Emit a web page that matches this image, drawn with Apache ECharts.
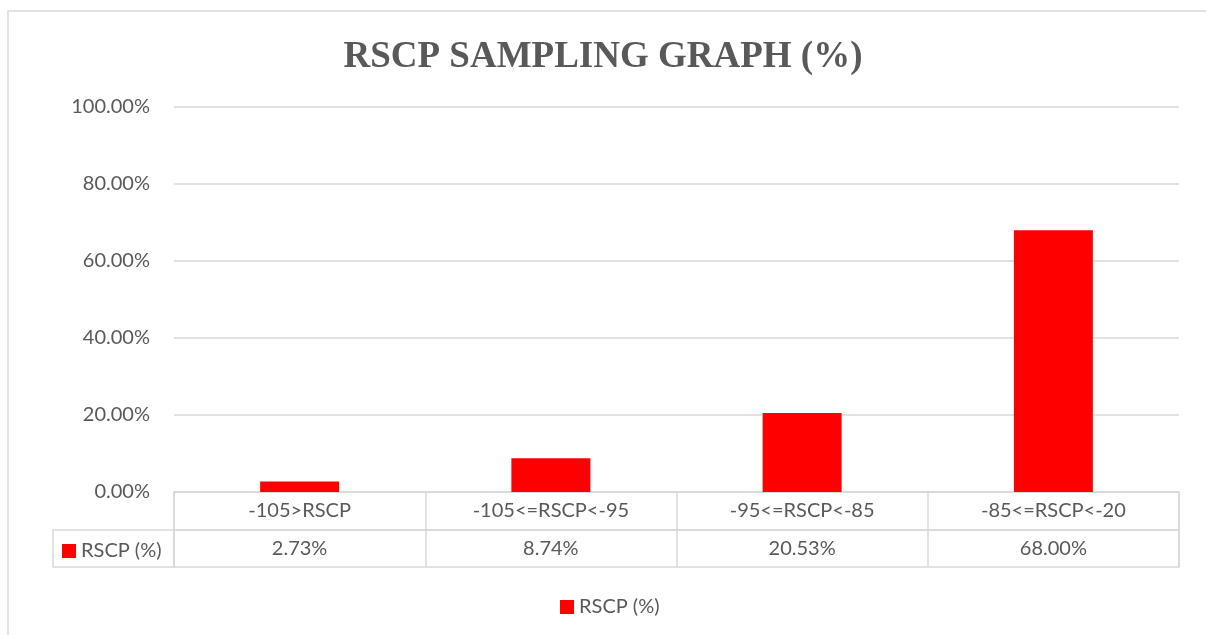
<!DOCTYPE html>
<html>
<head>
<meta charset="utf-8">
<style>
  html, body { margin: 0; padding: 0; background: #ffffff; }
  #chart { width: 1206px; height: 635px; }
</style>
<script src="https://cdn.jsdelivr.net/npm/echarts@6/dist/echarts.min.js"></script>
</head>
<body>
<div id="chart"></div>
<script>
// RSCP ranges (dBm) and the share of samples in each
const categories = ['-105>RSCP', '-105<=RSCP<-95', '-95<=RSCP<-85', '-85<=RSCP<-20'];
const rscpShare = [2.73, 8.74, 20.53, 68.00];
const seriesName = 'RSCP (%)';
const titleText = 'RSCP SAMPLING GRAPH (%)';

const pct = v => v.toFixed(2) + '%';
const valueLabels = rscpShare.map(pct);

const TEXT = '#595959';
const LINE = '#d9d9d9';
const FONT = 'Lato, "Open Sans", sans-serif';
const FS = 20;

const chart = echarts.init(document.getElementById('chart'), null, { renderer: 'canvas' });

const hiddenAxis = idx => ({ gridIndex: idx, show: false });

chart.setOption({
  backgroundColor: '#ffffff',
  animation: false,
  textStyle: { fontFamily: FONT, color: TEXT },
  title: {
    text: titleText,
    left: 'center',
    top: 34,
    textStyle: {
      fontFamily: '"Liberation Serif", "Times New Roman", serif',
      fontWeight: 'bold',
      fontSize: 37,
      color: TEXT
    }
  },
  legend: [
    {
      // legend key inside the data table
      data: [seriesName],
      left: 62, top: 541, padding: 0,
      icon: 'rect', itemWidth: 14, itemHeight: 14, itemGap: 0,
      selectedMode: false,
      textStyle: { fontFamily: FONT, fontSize: FS, color: TEXT, lineHeight: 14 }
    },
    {
      data: [seriesName],
      left: 560, top: 597, padding: 0,
      icon: 'rect', itemWidth: 14, itemHeight: 14,
      selectedMode: false,
      textStyle: { fontFamily: FONT, fontSize: FS, color: TEXT, lineHeight: 14 }
    }
  ],
  grid: [
    // plot area
    { left: 174, right: 27, top: 107, bottom: 143 },
    // table: category row
    { left: 174, right: 27, top: 492, bottom: 105, show: true, borderColor: LINE, borderWidth: 1.5 },
    // table: value row
    { left: 174, right: 27, top: 530, bottom: 68, show: true, borderColor: LINE, borderWidth: 1.5 },
    // table: legend key cell
    { left: 53, width: 121, top: 530, bottom: 68, show: true, borderColor: LINE, borderWidth: 1.5 }
  ],
  xAxis: [
    {
      type: 'category', gridIndex: 0, data: categories,
      axisLine: { show: true, lineStyle: { color: LINE, width: 1.5 } },
      axisTick: { show: false },
      axisLabel: { show: false }
    },
    {
      type: 'category', gridIndex: 1, data: categories, position: 'top',
      axisLine: { show: false }, axisTick: { show: false },
      splitLine: { show: true, lineStyle: { color: LINE, width: 1.5 } },
      axisLabel: { inside: true, margin: 19, verticalAlign: 'middle', fontSize: FS, color: TEXT, fontFamily: FONT }
    },
    {
      type: 'category', gridIndex: 2, data: valueLabels, position: 'top',
      axisLine: { show: false }, axisTick: { show: false },
      splitLine: { show: true, lineStyle: { color: LINE, width: 1.5 } },
      axisLabel: { inside: true, margin: 19, verticalAlign: 'middle', fontSize: FS, color: TEXT, fontFamily: FONT }
    },
    { type: 'category', gridIndex: 3, data: [''], show: false }
  ],
  yAxis: [
    {
      type: 'value', gridIndex: 0, min: 0, max: 100, interval: 20,
      axisLine: { show: false }, axisTick: { show: false },
      splitLine: { show: true, lineStyle: { color: LINE, width: 1.5 } },
      axisLabel: { formatter: pct, fontSize: FS, color: TEXT, fontFamily: FONT, margin: 24 }
    },
    Object.assign({ type: 'value' }, hiddenAxis(1)),
    Object.assign({ type: 'value' }, hiddenAxis(2)),
    Object.assign({ type: 'value' }, hiddenAxis(3))
  ],
  graphic: [
    {
      type: 'rect', silent: true, z: -1,
      shape: { x: 8, y: 11, width: 1220, height: 700 },
      style: { fill: 'none', stroke: LINE, lineWidth: 1.5 }
    }
  ],
  series: [
    {
      name: seriesName, type: 'bar', xAxisIndex: 0, yAxisIndex: 0,
      data: rscpShare, barWidth: 79,
      itemStyle: { color: '#ff0000' }
    }
  ]
});
</script>
</body>
</html>
